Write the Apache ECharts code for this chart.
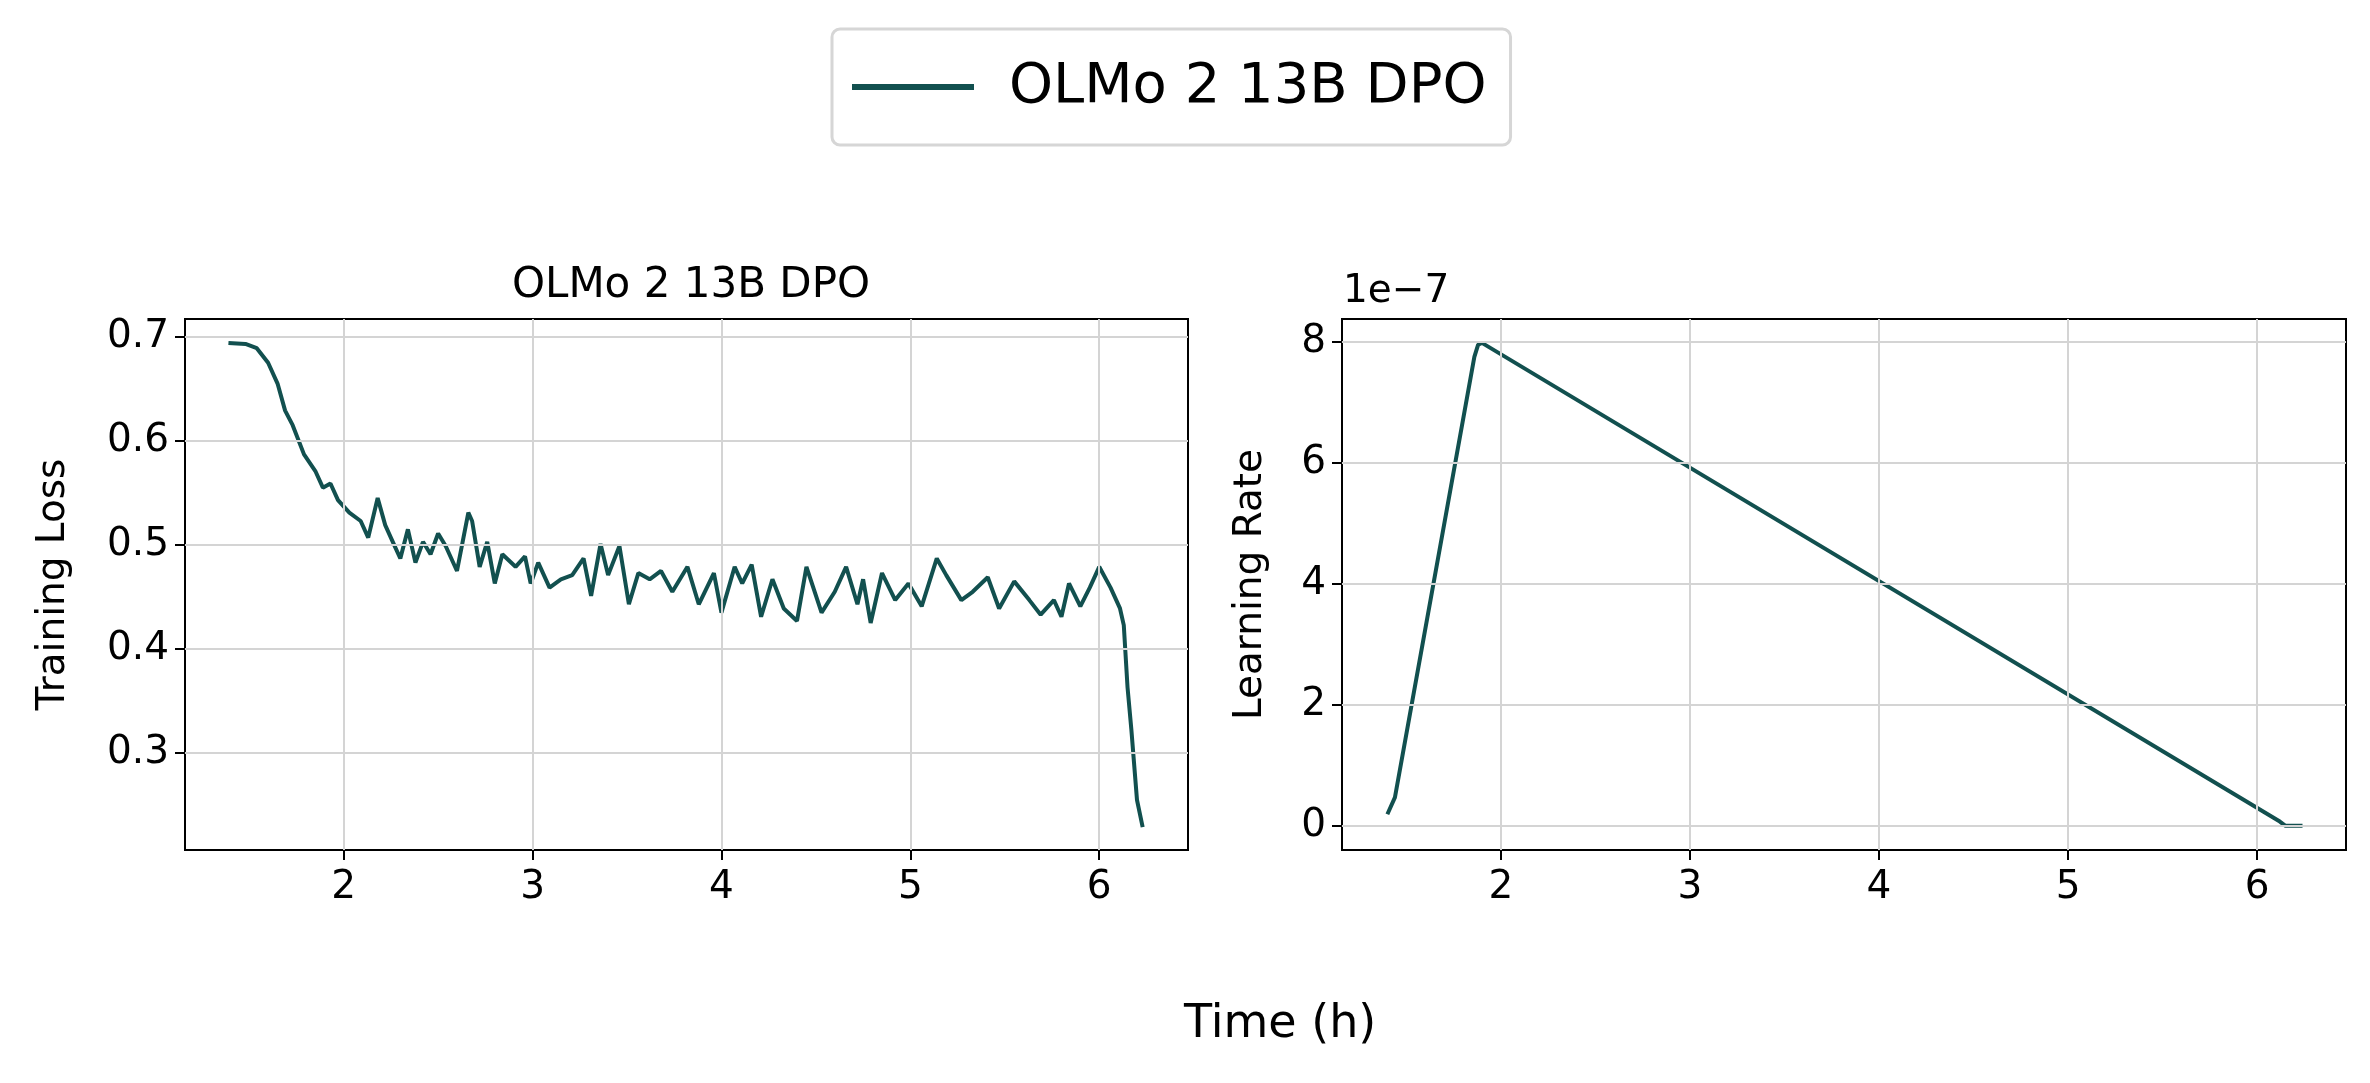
<!DOCTYPE html>
<html>
<head>
<meta charset="utf-8">
<script src="https://cdn.jsdelivr.net/npm/echarts@6/dist/echarts.min.js"></script>
<style>
  html, body { margin: 0; padding: 0; background: #fff; }
  #chart { width: 2370px; height: 1083px; }
</style>
</head>
<body>
<div id="chart"></div>
<script>
var seriesName = 'OLMo 2 13B DPO';
var lineColor = '#12504f';

// training loss, [time (h), loss]
var lossData = [
  [1.39, 0.694], [1.48, 0.693], [1.54, 0.689], [1.60, 0.675], [1.65, 0.655], [1.69, 0.629],
  [1.73, 0.615], [1.79, 0.587], [1.85, 0.571], [1.89, 0.555], [1.93, 0.559], [1.97, 0.543],
  [2.03, 0.531], [2.09, 0.523], [2.13, 0.507], [2.18, 0.545], [2.22, 0.519], [2.26, 0.503],
  [2.30, 0.487], [2.34, 0.515], [2.38, 0.483], [2.42, 0.503], [2.46, 0.491], [2.50, 0.511],
  [2.54, 0.499], [2.60, 0.475], [2.66, 0.531], [2.68, 0.523], [2.72, 0.479], [2.76, 0.503],
  [2.80, 0.463], [2.84, 0.491], [2.91, 0.479], [2.96, 0.489], [2.99, 0.463], [3.03, 0.483],
  [3.09, 0.459], [3.15, 0.467], [3.21, 0.471], [3.27, 0.487], [3.31, 0.451], [3.36, 0.501],
  [3.40, 0.471], [3.46, 0.499], [3.51, 0.443], [3.56, 0.473], [3.62, 0.467], [3.68, 0.475],
  [3.74, 0.455], [3.82, 0.479], [3.88, 0.443], [3.96, 0.473], [4.00, 0.435], [4.07, 0.479],
  [4.11, 0.463], [4.16, 0.481], [4.21, 0.431], [4.27, 0.467], [4.33, 0.439], [4.40, 0.427],
  [4.45, 0.479], [4.53, 0.435], [4.60, 0.455], [4.66, 0.479], [4.72, 0.443], [4.75, 0.467],
  [4.79, 0.425], [4.85, 0.473], [4.92, 0.447], [4.99, 0.463], [5.06, 0.441], [5.14, 0.487],
  [5.19, 0.471], [5.27, 0.447], [5.33, 0.455], [5.41, 0.469], [5.47, 0.439], [5.55, 0.465],
  [5.63, 0.447], [5.69, 0.433], [5.76, 0.447], [5.80, 0.431], [5.84, 0.463], [5.90, 0.441],
  [5.95, 0.459], [6.00, 0.479], [6.06, 0.459], [6.11, 0.439], [6.13, 0.423], [6.15, 0.363],
  [6.17, 0.323], [6.20, 0.255], [6.23, 0.229]
];

// learning rate in units of 1e-7
var lrData = [
  [1.40, 0.19], [1.44, 0.47], [1.86, 7.75], [1.88, 7.95], [1.90, 7.98],
  [6.12, 0.07], [6.15, 0.0], [6.24, 0.0]
];

var xTicks = [2, 3, 4, 5, 6];
var lossTicks = [0.3, 0.4, 0.5, 0.6, 0.7];
var lrTicks = [0, 2, 4, 6, 8];

var font = 'DejaVu Sans';
var chart = echarts.init(document.getElementById('chart'));

function xAxisOpt(idx) {
  return {
    type: 'value', gridIndex: idx, min: 1.16, max: 6.47,
    axisLine: { show: true, onZero: false, lineStyle: { color: '#000', width: 2 } },
    axisTick: { show: true, inside: false, length: 10, customValues: xTicks, lineStyle: { color: '#000', width: 2 } },
    axisLabel: { customValues: xTicks, fontFamily: font, fontSize: 39, color: '#000', margin: 18 },
    splitLine: { show: false }
  };
}
function yAxisOpt(idx, min, max, ticks, name) {
  return {
    type: 'value', gridIndex: idx, min: min, max: max,
    name: name, nameLocation: 'middle', nameGap: idx === 0 ? 112 : 72,
    nameTextStyle: { fontFamily: font, fontSize: 39, color: '#000' },
    axisLine: { show: true, onZero: false, lineStyle: { color: '#000', width: 2 } },
    axisTick: { show: true, inside: false, length: 10, customValues: ticks, lineStyle: { color: '#000', width: 2 } },
    axisLabel: { customValues: ticks, fontFamily: font, fontSize: 39, color: '#000', margin: 16 },
    splitLine: { show: false }
  };
}
function gridLines(ticksY) {
  var d = xTicks.map(function (v) { return { xAxis: v }; });
  ticksY.forEach(function (v) { d.push({ yAxis: v }); });
  return {
    silent: true, symbol: 'none', label: { show: false }, animation: false,
    lineStyle: { color: '#d4d4d4', width: 2, type: 'solid' }, data: d
  };
}

chart.setOption({
  animation: false,
  backgroundColor: '#fff',
  title: [{
    text: seriesName, left: 686, top: 260, textAlign: 'center',
    textStyle: { fontFamily: font, fontSize: 42, fontWeight: 'normal', color: '#000' }
  }],
  legend: {
    data: [seriesName], left: 832, top: 29, padding: [30, 24, 30, 20],
    borderColor: '#d6d6d6', borderWidth: 3, borderRadius: 8,
    itemWidth: 122, itemHeight: 6, itemGap: 0,
    icon: 'rect',
    textStyle: { fontFamily: font, fontSize: 56, color: '#000', padding: [0, 0, 0, 30] }
  },
  graphic: [
    { type: 'text', left: 1343, top: 272, style: { text: '1e\u22127', font: '39px "DejaVu Sans"', fill: '#000' } },
    { type: 'text', left: 1184, top: 1002, style: { text: 'Time (h)', font: '46px "DejaVu Sans"', fill: '#000', textAlign: 'center' } }
  ],
  grid: [
    { left: 185, top: 319, width: 1003, height: 531, show: true, borderColor: '#000', borderWidth: 2 },
    { left: 1342, top: 319, width: 1004, height: 531, show: true, borderColor: '#000', borderWidth: 2 }
  ],
  xAxis: [xAxisOpt(0), xAxisOpt(1)],
  yAxis: [
    yAxisOpt(0, 0.207, 0.717, lossTicks, 'Training Loss'),
    yAxisOpt(1, -0.40, 8.375, lrTicks, 'Learning Rate')
  ],
  series: [
    {
      name: seriesName, type: 'line', xAxisIndex: 0, yAxisIndex: 0, data: lossData,
      showSymbol: false, lineStyle: { color: lineColor, width: 4 }, itemStyle: { color: lineColor },
      markLine: gridLines(lossTicks), z: 3
    },
    {
      name: seriesName, type: 'line', xAxisIndex: 1, yAxisIndex: 1, data: lrData,
      showSymbol: false, lineStyle: { color: lineColor, width: 4 }, itemStyle: { color: lineColor },
      markLine: gridLines(lrTicks), z: 3
    }
  ]
});
</script>
</body>
</html>
